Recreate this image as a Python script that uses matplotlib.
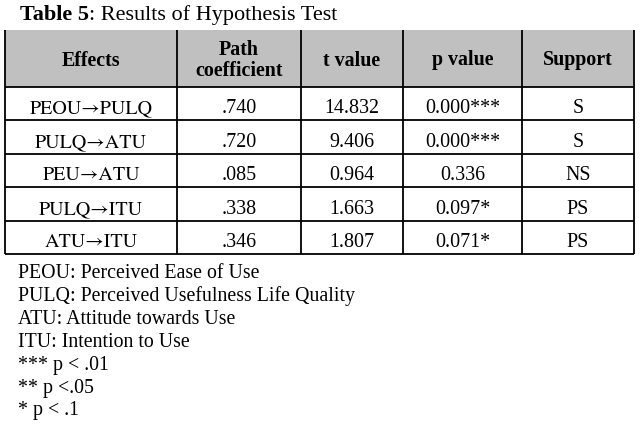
import matplotlib
matplotlib.use("Agg")
import matplotlib.pyplot as plt
from matplotlib.patches import Rectangle

plt.rcParams['font.family'] = ['Liberation Serif', 'DejaVu Serif']

headers = ["Effects", "Path\ncoefficient", "t value", "p value", "Support"]
effects = ["PEOU→PULQ", "PULQ→ATU", "PEU→ATU", "PULQ→ITU", "ATU→ITU"]
path_coef = [".740", ".720", ".085", ".338", ".346"]
t_values = ["14.832", "9.406", "0.964", "1.663", "1.807"]
p_values = ["0.000***", "0.000***", "0.336", "0.097*", "0.071*"]
support = ["S", "S", "NS", "PS", "PS"]
notes = ["PEOU: Perceived Ease of Use",
         "PULQ: Perceived Usefulness Life Quality",
         "ATU: Attitude towards Use",
         "ITU: Intention to Use",
         "*** p < .01",
         "** p <.05",
         "* p < .1"]

W, H = 644, 424
fig = plt.figure(figsize=(W/100, H/100), dpi=100)
ax = fig.add_axes([0, 0, 1, 1])
ax.set_xlim(0, W)
ax.set_ylim(H, 0)
ax.axis('off')

col_x = [5, 177, 301, 403, 522, 634]
row_y = [30, 87, 120, 154, 187, 221, 254]

# header background
ax.add_patch(Rectangle((col_x[0], row_y[0]), col_x[-1]-col_x[0], row_y[1]-row_y[0],
                       facecolor='#c0c0c0', edgecolor='none', zorder=0))

lw = 1.3
for x in col_x:
    ax.plot([x, x], [row_y[0], row_y[-1]], color='black', lw=lw, solid_capstyle='butt')
for y in row_y[1:]:
    ax.plot([col_x[0], col_x[-1]], [y, y], color='black', lw=lw, solid_capstyle='butt')

# title
t1 = ax.text(20, 20, "Table 5", fontsize=16, fontweight='bold', va='baseline', ha='left')
fig.canvas.draw()
bb = t1.get_window_extent(renderer=fig.canvas.get_renderer())
ax.text(bb.x1, 20, ": Results of Hypothesis Test", fontsize=16, va='baseline', ha='left')

# header texts
for i, h in enumerate(headers):
    cx = (col_x[i] + col_x[i+1]) / 2
    cy = (row_y[0] + row_y[1]) / 2
    ax.text(cx, cy + 2, h, fontsize=14.4, fontweight='bold', ha='center', va='center',
            linespacing=1.05)

cols = [effects, path_coef, t_values, p_values, support]
for r in range(len(effects)):
    base = row_y[r+2] - 7
    for c, data in enumerate(cols):
        cx = (col_x[c] + col_x[c+1]) / 2
        if c == 0:
            ax.text(cx, base, data[r], fontsize=14.4, ha='center', va='baseline',
                    family=['STIXGeneral', 'Liberation Serif', 'DejaVu Serif'])
        else:
            ax.text(cx, base, data[r], fontsize=14.4, ha='center', va='baseline')

for k, n in enumerate(notes):
    ax.text(18, 278 + k * 22.9, n, fontsize=14.3, ha='left', va='baseline')

fig.savefig("out.png", dpi=100, facecolor='white')
